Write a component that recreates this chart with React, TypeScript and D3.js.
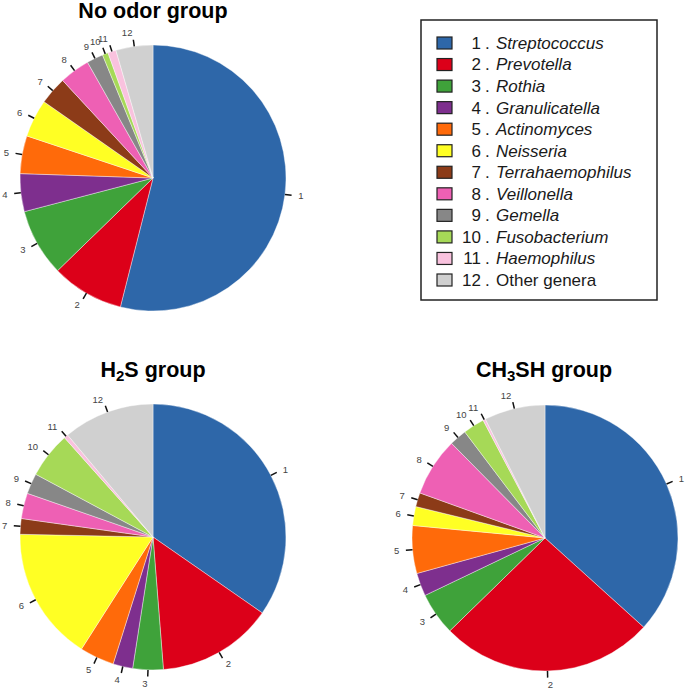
import React from 'react';
import * as d3 from 'd3';

// genus names and colours, in slice order
const genera = [
  'Streptococcus', 'Prevotella', 'Rothia', 'Granulicatella', 'Actinomyces',
  'Neisseria', 'Terrahaemophilus', 'Veillonella', 'Gemella', 'Fusobacterium',
  'Haemophilus', 'Other genera',
];
const colors = [
  '#2E67A9', '#DC0019', '#3FA23A', '#7E2F8E', '#FF6A0A', '#FFFF24',
  '#8C3B18', '#EE60B4', '#878787', '#A6D957', '#F9C2DE', '#D0D0D0',
];

// relative abundance (%)
const noOdor = [54.0, 8.8, 8.2, 4.6, 4.6, 4.6, 3.4, 3.7, 2.0, 0.7, 1.0, 4.5];
const h2s = [34.7, 14.1, 3.7, 2.4, 4.2, 16.3, 1.9, 3.1, 2.5, 5.6, 0.5, 11.1];
const ch3sh = [36.7, 26.0, 5.2, 2.8, 5.8, 2.3, 1.7, 7.1, 2.1, 2.6, 0.3, 7.4];

const font = 'Liberation Sans, Arial, Helvetica, sans-serif';
const R = 133;

const Pie = ({ values, cx, cy }: { values: number[]; cx: number; cy: number }) => {
  const arcs = d3.pie<number>().sort(null).value(d => d)(values);
  const arc = d3.arc<d3.PieArcDatum<number>>().innerRadius(0).outerRadius(R);

  return (
    <g transform={`translate(${cx},${cy})`}>
      {arcs.map((a, i) => (
        <path key={i} d={arc(a) || ''} fill={colors[i]} stroke="#fff" strokeWidth={0.4} />
      ))}
      {arcs.map((a, i) => {
        const mid = (a.startAngle + a.endAngle) / 2;
        const sx = Math.sin(mid), sy = -Math.cos(mid);
        return (
          <g key={'l' + i}>
            <line x1={sx * R} y1={sy * R} x2={sx * R * 1.05} y2={sy * R * 1.05}
              stroke="#111" strokeWidth={1.5} />
            <text x={sx * R * 1.1} y={sy * R * 1.1} dy="0.35em"
              textAnchor={sx >= 0 ? 'start' : 'end'}
              fontSize={9.5} fill="#444" fontFamily={font}>{i + 1}</text>
          </g>
        );
      })}
    </g>
  );
};

const App = () => {
  const rowY = d3.scaleLinear().domain([0, genera.length - 1]).range([43, 280]);

  return (
    <svg width={685} height={691} style={{ position: 'absolute', left: 0, top: 0, background: '#fff' }}>
      <text x={153} y={18} textAnchor="middle" fontSize={21.5} fontWeight="bold" fontFamily={font}>
        No odor group
      </text>
      <text x={153} y={377} textAnchor="middle" fontSize={21.5} fontWeight="bold" fontFamily={font}>
        H<tspan fontSize={15} dy={4}>2</tspan><tspan dy={-4}>S group</tspan>
      </text>
      <text x={544} y={377} textAnchor="middle" fontSize={21.5} fontWeight="bold" fontFamily={font}>
        CH<tspan fontSize={15} dy={4}>3</tspan><tspan dy={-4}>SH group</tspan>
      </text>

      <Pie values={noOdor} cx={153} cy={178} />
      <Pie values={h2s} cx={153} cy={537} />
      <Pie values={ch3sh} cx={545} cy={538} />

      {/* legend */}
      <rect x={421} y={20} width={236} height={280} fill="#fff" stroke="#222" strokeWidth={1.5} />
      {genera.map((g, i) => (
        <g key={g} fontFamily={font} fontSize={17} fill="#1a1a1a">
          <rect x={437} y={rowY(i) - 6} width={15} height={12} fill={colors[i]} stroke="#222" strokeWidth={1.2} />
          <text x={481} y={rowY(i)} dy="0.35em" textAnchor="end">{i + 1}</text>
          <text x={485} y={rowY(i)} dy="0.35em">.</text>
          <text x={496} y={rowY(i)} dy="0.35em" fontStyle={i < 11 ? 'italic' : 'normal'}>{g}</text>
        </g>
      ))}
    </svg>
  );
};

export default App;
